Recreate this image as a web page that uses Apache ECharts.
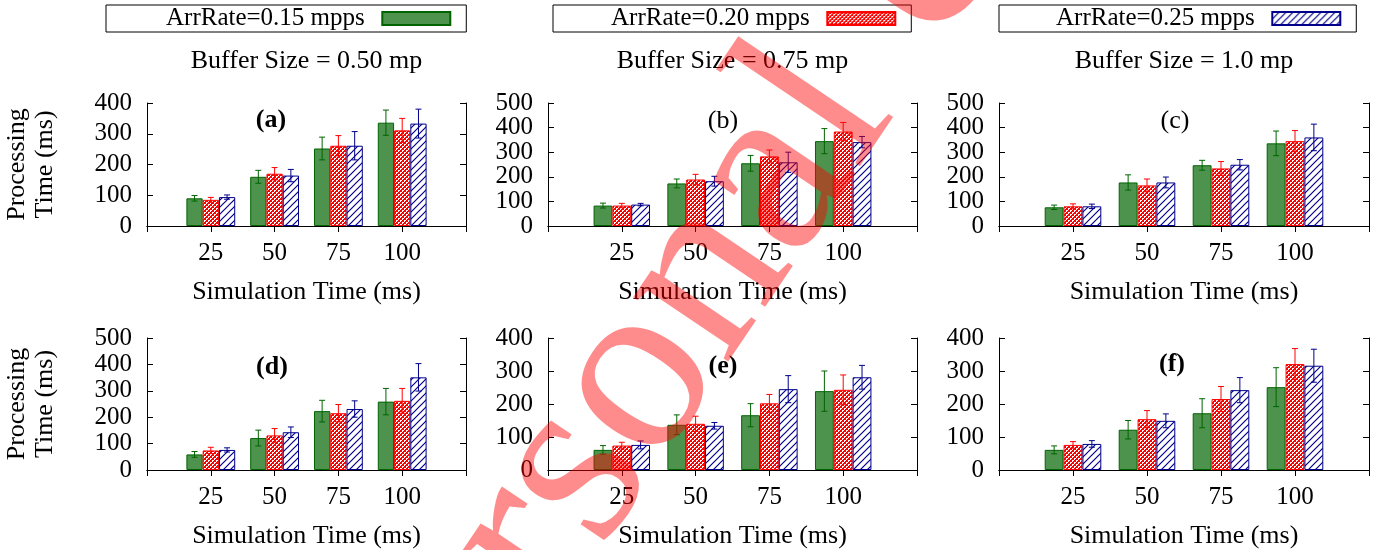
<!DOCTYPE html>
<html>
<head>
<meta charset="utf-8">
<script src="https://cdn.jsdelivr.net/npm/echarts@6/dist/echarts.min.js"></script>
<style>
  html, body { margin: 0; padding: 0; background: #fff; }
  #chart { width: 1387px; height: 550px; }
</style>
</head>
<body>
<div id="chart"></div>
<script>
  // simulation time (ms) on the x axis
  const xTicks = [25, 50, 75, 100]
  const seriesNames = ['ArrRate=0.15 mpps', 'ArrRate=0.20 mpps', 'ArrRate=0.25 mpps']
  const bufferTitles = ['Buffer Size = 0.50 mp', 'Buffer Size = 0.75 mp', 'Buffer Size = 1.0 mp']
  const panelLabels = ['(a)', '(b)', '(c)', '(d)', '(e)', '(f)']
  const yMaxes = [400, 500, 500, 500, 400, 400]

  // processing time (ms): one row per arrival rate, mean and error
  const meanA = [[90, 160, 252, 336], [85, 170, 261, 311], [94, 164, 261, 333]]
  const errA = [[9, 21, 37, 41], [8, 20, 33, 39], [7, 20, 46, 47]]
  const meanB = [[83, 173, 255, 345], [83, 189, 283, 384], [87, 182, 259, 341]]
  const errB = [[10, 18, 32, 51], [9, 21, 26, 37], [5, 20, 41, 23]]
  const meanC = [[76, 177, 247, 336], [80, 165, 234, 345], [80, 177, 249, 360]]
  const errC = [[9, 31, 20, 50], [10, 26, 28, 43], [9, 22, 21, 54]]
  const meanD = [[59, 121, 223, 259], [74, 131, 215, 262], [76, 143, 231, 351]]
  const errD = [[11, 30, 41, 50], [12, 26, 33, 47], [8, 20, 31, 52]]
  const meanE = [[61, 137, 166, 239], [74, 140, 202, 243], [76, 134, 245, 281]]
  const errE = [[13, 30, 35, 61], [10, 23, 27, 45], [12, 10, 41, 36]]
  const meanF = [[61, 122, 172, 251], [76, 154, 215, 321], [79, 149, 242, 316]]
  const errF = [[12, 28, 44, 59], [10, 26, 38, 47], [10, 21, 38, 50]]

  const means = [meanA, meanB, meanC, meanD, meanE, meanF]
  const errs = [errA, errB, errC, errD, errE, errF]

  // layout
  const font = '"Liberation Serif", "Times New Roman", serif'
  const colLeft = [147, 548, 999]
  const colWidth = [319, 369, 370]
  const rowTop = [103, 338]
  const rowHeight = [123, 134]
  const legendLeft = [106, 553, 999]
  const legendPad = [60, 58, 57]
  const labelPos = [[271, 107], [723, 108], [1175, 108], [272, 354], [723, 353], [1172, 351]]
  const labelBold = [true, false, false, true, true, true]
  const barFrac = 0.255

  // padding categories so the axis runs 0..125
  const xCats = [0].concat(xTicks, [125]).map(String)

  function checkerPattern(){
    let c = document.createElement('canvas')
    c.width = 4; c.height = 4
    let ctx = c.getContext('2d')
    ctx.fillStyle = '#ff0000'
    ctx.fillRect(0, 0, 4, 4)
    ctx.fillStyle = '#ffffff'
    ctx.fillRect(0, 0, 2, 1)
    ctx.fillRect(0, 1, 1, 1)
    ctx.fillRect(2, 2, 2, 1)
    ctx.fillRect(2, 3, 1, 1)
    return { image: c, repeat: 'repeat' }
  }
  function hatchPattern(){
    let s = 7
    let c = document.createElement('canvas')
    c.width = s; c.height = s
    let ctx = c.getContext('2d')
    ctx.fillStyle = '#ffffff'
    ctx.fillRect(0, 0, s, s)
    ctx.strokeStyle = '#00008b'
    ctx.lineWidth = 1.2
    ctx.beginPath()
    ctx.moveTo(-1, s + 1); ctx.lineTo(s + 1, -1)
    ctx.moveTo(-1, 1); ctx.lineTo(1, -1)
    ctx.moveTo(s - 1, s + 1); ctx.lineTo(s + 1, s - 1)
    ctx.stroke()
    return { image: c, repeat: 'repeat' }
  }

  const fills = ['#4d934d', checkerPattern(), hatchPattern()]
  const strokes = ['#006400', '#ff0000', '#00008b']

  let grids = [], xAxes = [], yAxes = [], series = [], titles = []

  for (let p = 0; p < 6; p++){
    let col = p % 3, row = Math.floor(p / 3)
    let yMax = yMaxes[p]
    grids.push({ left: colLeft[col], top: rowTop[row], width: colWidth[col], height: rowHeight[row], show: false })
    // bottom axis with labels
    xAxes.push({
      gridIndex: p, type: 'category', data: xCats, boundaryGap: false,
      axisLine: { lineStyle: { color: '#000', width: 1 } },
      axisTick: { show: false },
      axisLabel: { interval: 0, margin: 15, color: '#000', fontFamily: font, fontSize: 25,
        formatter: v => xTicks.indexOf(+v) >= 0 ? v : '' },
      name: 'Simulation Time (ms)', nameLocation: 'middle', nameGap: 53,
      nameTextStyle: { color: '#000', fontFamily: font, fontSize: 26 }
    })
    // mirrored top axis, ticks only
    xAxes.push({
      gridIndex: p, type: 'category', data: xCats, boundaryGap: false, position: 'top',
      axisLine: { lineStyle: { color: '#000', width: 1 } },
      axisTick: { show: true, inside: true, length: 6, interval: 0, lineStyle: { color: '#000' } },
      axisLabel: { show: false }
    })
    // left axis: inner tick labels
    yAxes.push({
      gridIndex: p, type: 'value', min: 0, max: yMax, interval: 100,
      axisLine: { show: true, lineStyle: { color: '#000', width: 1 } },
      axisTick: { show: true, inside: true, length: 6, lineStyle: { color: '#000' } },
      splitLine: { show: false },
      axisLabel: { margin: 15, color: '#000', fontFamily: font, fontSize: 25, hideOverlap: false,
        formatter: v => (v === 0 || v === yMax) ? '' : String(v) },
      name: col === 0 ? 'Processing\nTime (ms)' : '',
      nameLocation: 'middle', nameRotate: 90, nameGap: 88,
      nameTextStyle: { color: '#000', fontFamily: font, fontSize: 26, lineHeight: 28 }
    })
    // left axis overlay: end labels (0 and max) only
    yAxes.push({
      gridIndex: p, type: 'value', min: 0, max: yMax, interval: 100, position: 'left',
      axisLine: { show: false }, axisTick: { show: false }, splitLine: { show: false },
      axisLabel: { margin: 15, color: '#000', fontFamily: font, fontSize: 25, hideOverlap: false,
        showMinLabel: true, showMaxLabel: true,
        formatter: v => (v === 0 || v === yMax) ? String(v) : '' }
    })
    // mirrored right axis, ticks only
    yAxes.push({
      gridIndex: p, type: 'value', min: 0, max: yMax, interval: 100, position: 'right',
      axisLine: { show: true, lineStyle: { color: '#000', width: 1 } },
      axisTick: { show: true, inside: true, length: 6, lineStyle: { color: '#000' } },
      splitLine: { show: false },
      axisLabel: { show: false }
    })

    for (let s = 0; s < 3; s++){
      series.push({
        type: 'bar', name: seriesNames[s], xAxisIndex: 2 * p, yAxisIndex: 3 * p,
        data: ['-'].concat(means[p][s], ['-']),
        barWidth: (barFrac * 100) + '%', barGap: '0%',
        itemStyle: { color: fills[s], borderColor: strokes[s], borderWidth: 1 },
        silent: true
      })
    }
    for (let s = 0; s < 3; s++){
      series.push({
        type: 'custom', xAxisIndex: 2 * p, yAxisIndex: 3 * p, z: 3, silent: true,
        data: xTicks.map((t, i) => [i + 1, means[p][s][i], errs[p][s][i]]),
        encode: { x: 0, y: 1 },
        renderItem: (params, api) => {
          let band = api.size([1, 0])[0]
          let cx = api.coord([api.value(0), 0])[0] + (s - 1) * band * barFrac
          let top = api.coord([api.value(0), api.value(1) + api.value(2)])[1]
          let bot = api.coord([api.value(0), api.value(1) - api.value(2)])[1]
          let st = { stroke: strokes[s], lineWidth: 1 }
          return {
            type: 'group',
            children: [
              { type: 'line', shape: { x1: cx, y1: top, x2: cx, y2: bot }, style: st },
              { type: 'line', shape: { x1: cx - 3, y1: top, x2: cx + 3, y2: top }, style: st },
              { type: 'line', shape: { x1: cx - 3, y1: bot, x2: cx + 3, y2: bot }, style: st }
            ]
          }
        }
      })
    }

    titles.push({
      text: panelLabels[p], left: labelPos[p][0], top: labelPos[p][1], textAlign: 'center', padding: 0,
      textStyle: { color: '#000', fontFamily: font, fontSize: 26, fontWeight: labelBold[p] ? 'bold' : 'normal' }
    })
  }

  bufferTitles.forEach((t, i) => {
    titles.push({
      text: t, left: colLeft[i] + colWidth[i] / 2, top: 48, textAlign: 'center', padding: 0,
      textStyle: { color: '#000', fontFamily: font, fontSize: 26, fontWeight: 'normal' }
    })
  })

  let legends = seriesNames.map((n, i) => ({
    data: [{ name: n, icon: 'rect' }], left: legendLeft[i], top: 5, orient: 'horizontal', align: 'right',
    itemWidth: 68, itemHeight: 13, padding: [1, 15, 1, legendPad[i]],
    borderColor: '#000', borderWidth: 1, borderRadius: 0,
    selectedMode: false,
    formatter: nm => nm + '  ',
    textStyle: { color: '#000', fontFamily: font, fontSize: 25, lineHeight: 25 }
  }))

  var myChart = echarts.init(document.getElementById('chart'), null, { renderer: 'canvas' })
  myChart.setOption({
    backgroundColor: '#fff',
    animation: false,
    title: titles,
    legend: legends,
    grid: grids,
    xAxis: xAxes,
    yAxis: yAxes,
    series: series,
    // watermark stamped over the figure
    graphic: [{
      type: 'text', x: 360, y: 790, rotation: 56 * Math.PI / 180, silent: true, z: 100,
      style: { text: 'Personal Use Only', font: '250px "Liberation Serif"', fill: 'rgba(255,0,0,0.45)',
        align: 'left', verticalAlign: 'middle' }
    }]
  })
</script>
</body>
</html>
